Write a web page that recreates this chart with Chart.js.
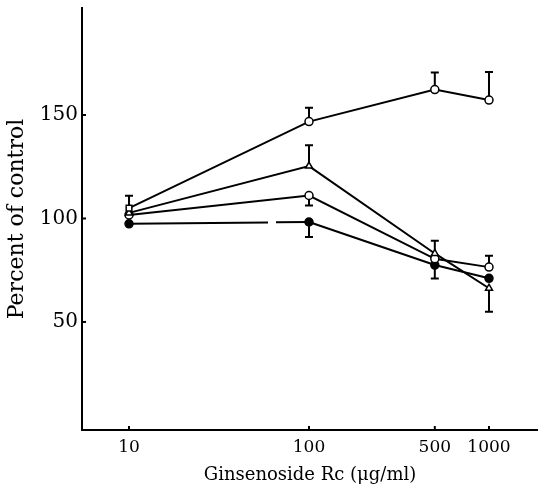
<!DOCTYPE html>
<html>
<head>
<meta charset="utf-8">
<script src="https://cdn.jsdelivr.net/npm/chart.js@4/dist/chart.umd.min.js"></script>
<style>
  html, body { margin: 0; padding: 0; background: #fff; }
  #wrap { width: 538px; height: 486px; }
</style>
</head>
<body>
<div id="wrap"><canvas id="chart" width="538" height="486"></canvas></div>
<script>
// Data
const doses = [10, 100, 500, 1000];
const xTickValues = [10, 100, 500, 1000];
const yTickValues = [50, 100, 150];
const yTickLabels = ['50', '100', '150'];

const seriesA = [105, 146.8, 162.3, 157.2];   // open circles (top)
const seriesB = [102.7, 125.3, 83.1, 66.3];   // open triangles
const seriesC = [101.7, 111.1, 80.5, 76.5];   // open circles (middle)
const seriesD = [97.4, 98.3, 77.5, 71.1];     // filled circles

// Error bar ends (null = none drawn)
const upperA = [111, 153.5, 170.5, 170.8];
const lowerA = [null, null, null, null];
const upperB = [null, 135.4, 89.2, null];
const lowerB = [null, null, null, 54.9];
const upperC = [null, null, null, 82];
const lowerC = [null, 106.3, null, null];
const upperD = [null, null, null, null];
const lowerD = [null, 91, 71, null];

const errUpper = [upperA, upperB, upperC, upperD];
const errLower = [lowerA, lowerB, lowerC, lowerD];

const serif = "'DejaVu Serif', serif";

function toPoints(values) {
    return doses.map((d, i) => ({ x: d, y: values[i] }));
}

// Error bars with caps, drawn under the markers
const errorBars = {
    id: 'errorBars',
    beforeDatasetsDraw(chart) {
        const ctx = chart.ctx;
        const xs = chart.scales.x;
        const ys = chart.scales.y;
        ctx.save();
        ctx.strokeStyle = '#000';
        ctx.lineWidth = 2;
        chart.data.datasets.forEach((ds, di) => {
            ds.data.forEach((p, i) => {
                const px = xs.getPixelForValue(p.x);
                const py = ys.getPixelForValue(p.y);
                [errUpper[di][i], errLower[di][i]].forEach(end => {
                    if (end == null) return;
                    const ey = ys.getPixelForValue(end);
                    ctx.beginPath();
                    ctx.moveTo(px, py);
                    ctx.lineTo(px, ey);
                    ctx.moveTo(px - 4, ey);
                    ctx.lineTo(px + 4, ey);
                    ctx.stroke();
                });
            });
        });
        ctx.restore();
    }
};

// Small tick marks pointing into the plot
const innerTicks = {
    id: 'innerTicks',
    afterDraw(chart) {
        const ctx = chart.ctx;
        const { left, bottom } = chart.chartArea;
        ctx.save();
        ctx.strokeStyle = '#000';
        ctx.lineWidth = 2;
        yTickValues.forEach(v => {
            const y = chart.scales.y.getPixelForValue(v);
            ctx.beginPath();
            ctx.moveTo(left, y);
            ctx.lineTo(left + 4, y);
            ctx.stroke();
        });
        xTickValues.forEach(v => {
            const x = chart.scales.x.getPixelForValue(v);
            ctx.beginPath();
            ctx.moveTo(x, bottom);
            ctx.lineTo(x, bottom - 4);
            ctx.stroke();
        });
        ctx.restore();
    }
};

function makeDataset(label, values, style, fill) {
    return {
        label: label,
        data: toPoints(values),
        borderColor: '#000',
        borderWidth: 2,
        pointStyle: style,
        pointRadius: 4,
        pointBorderWidth: 1.5,
        pointBorderColor: '#000',
        pointBackgroundColor: fill,
        tension: 0
    };
}

const datasets = [
    makeDataset('A', seriesA, ['rect', 'circle', 'circle', 'circle'], '#fff'),
    makeDataset('B', seriesB, 'triangle', '#fff'),
    makeDataset('C', seriesC, 'circle', '#fff'),
    makeDataset('D', seriesD, 'circle', '#000')
];
// broken first segment of the filled-circle line
datasets[3].segment = {
    borderDash: ctx => ctx.p0DataIndex === 0 ? [139, 8] : undefined
};

new Chart(document.getElementById('chart'), {
    type: 'line',
    data: { datasets: datasets },
    options: {
        responsive: false,
        animation: false,
        layout: { autoPadding: false, padding: { top: 8, right: 0, left: 0, bottom: 0 } },
        plugins: {
            legend: { display: false },
            tooltip: { enabled: false }
        },
        scales: {
            x: {
                type: 'logarithmic',
                min: 5.48,
                max: 1872,
                afterBuildTicks: s => { s.ticks = xTickValues.map(v => ({ value: v })); },
                afterFit: s => {
                    s.height = 56;
                    s.paddingLeft = 0;
                    s.paddingRight = 0;
                },
                grid: { display: true, drawOnChartArea: false, drawTicks: false },
                border: { display: true, color: '#000', width: 2 },
                ticks: {
                    color: '#000',
                    padding: 7,
                    maxRotation: 0,
                    autoSkip: false,
                    font: { family: serif, size: 17 },
                    callback: v => String(v)
                },
                title: {
                    display: true,
                    text: 'Ginsenoside Rc (μg/ml)',
                    color: '#000',
                    padding: { top: 1, bottom: 0 },
                    font: { family: serif, size: 18 }
                }
            },
            y: {
                type: 'linear',
                min: -2.2,
                max: 201.7,
                afterBuildTicks: s => { s.ticks = yTickValues.map(v => ({ value: v })); },
                afterFit: s => {
                    s.width = 82;
                    s.paddingTop = 0;
                    s.paddingBottom = 0;
                },
                grid: { display: true, drawOnChartArea: false, drawTicks: false },
                border: { display: true, color: '#000', width: 2 },
                ticks: {
                    color: '#000',
                    padding: 4,
                    font: { family: serif, size: 20 },
                    callback: v => yTickLabels[yTickValues.indexOf(v)]
                },
                title: {
                    display: true,
                    text: 'Percent of control',
                    color: '#000',
                    padding: { top: 4, bottom: 2 },
                    font: { family: serif, size: 22 }
                }
            }
        }
    },
    plugins: [errorBars, innerTicks]
});
</script>
</body>
</html>
